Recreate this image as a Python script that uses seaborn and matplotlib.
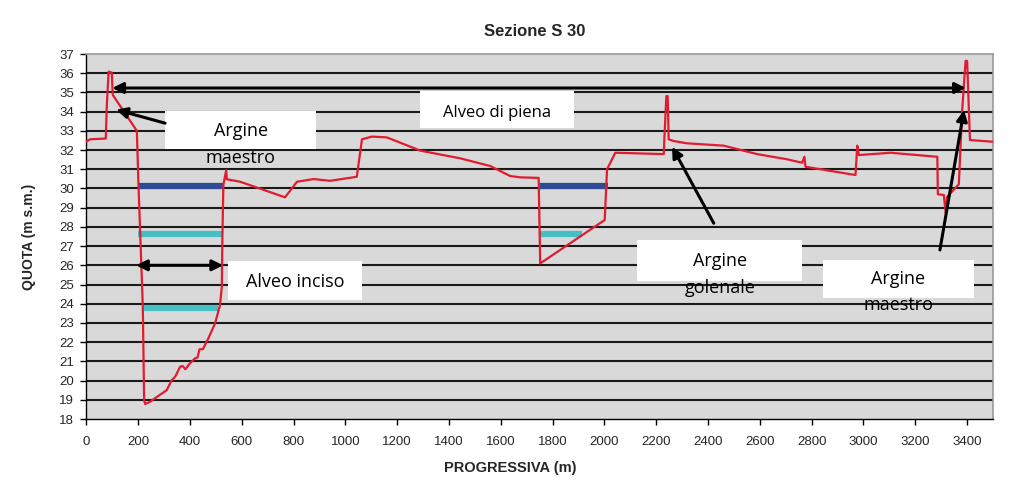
import matplotlib
matplotlib.use("Agg")
import matplotlib.pyplot as plt
import seaborn as sns
import pandas as pd

# ---- data ----
profile_x = [0, 14, 75, 79, 86, 98, 102, 195, 201, 218, 223, 227, 246, 310, 330, 343, 362, 372, 382,
             400, 420, 429, 437, 450, 471, 497, 516, 523, 525, 529, 540, 542, 594, 767, 813, 877, 941,
             1044, 1064, 1102, 1160, 1289, 1443, 1559, 1636, 1675, 1746, 1752, 2001, 2010, 2042, 2229,
             2231, 2239, 2244, 2248, 2267, 2319, 2460, 2589, 2705, 2763, 2772, 2776, 2969, 2976, 2982,
             3104, 3285, 3287, 3310, 3317, 3323, 3368, 3381, 3394, 3400, 3411, 3503]
profile_y = [32.44, 32.56, 32.60, 34.30, 36.08, 36.03, 34.87, 33.00, 30.30, 23.85, 18.99, 18.78, 18.90,
             19.50, 20.03, 20.20, 20.72, 20.76, 20.59, 20.90, 21.16, 21.20, 21.63, 21.64, 22.20, 22.98,
             23.93, 24.89, 27.30, 30.20, 30.96, 30.48, 30.35, 29.54, 30.35, 30.49, 30.40, 30.61, 32.56,
             32.70, 32.66, 31.97, 31.57, 31.17, 30.65, 30.58, 30.55, 26.10, 28.36, 31.00, 31.86, 31.79,
             32.52, 34.81, 34.81, 32.56, 32.47, 32.35, 32.23, 31.79, 31.52, 31.34, 31.65, 31.13, 30.70,
             32.23, 31.74, 31.86, 31.65, 29.70, 29.66, 28.74, 29.57, 30.22, 34.08, 36.64, 36.64, 32.52,
             32.43]

navy_start = [201, 1753]
navy_end = [529, 2012]
navy_level = [30.14, 30.13]

cyan_start = [201, 1753, 223]
cyan_end = [529, 1914, 510]
cyan_level = [27.61, 27.63, 23.76]

x_ticks = list(range(0, 3401, 200))
y_ticks = list(range(18, 38))

title = "Sezione S 30"
x_label = "PROGRESSIVA (m)"
y_label = "QUOTA (m s.m.)"

# ---- plot ----
sns.set_theme(style="white")
plt.rcParams['font.family'] = ['Liberation Sans', 'DejaVu Sans']

fig = plt.figure(figsize=(10.23, 4.95), dpi=100)
ax = fig.add_axes([0.0844, 0.1535, 0.9707 - 0.0844, 0.8909 - 0.1535])
ax.set_facecolor("#D9D9D9")

ax.set_xlim(0, 3500)
ax.set_ylim(18, 37)

for y in y_ticks[1:-1]:
    ax.axhline(y, color="#1a1a1a", lw=1.5, zorder=1)

for s, e, l in zip(navy_start, navy_end, navy_level):
    sns.lineplot(x=[s, e], y=[l, l], ax=ax, color="#2F4B96", lw=4.5, zorder=3, solid_capstyle="butt")
for s, e, l in zip(cyan_start, cyan_end, cyan_level):
    sns.lineplot(x=[s, e], y=[l, l], ax=ax, color="#45BFC4", lw=4.5, zorder=3, solid_capstyle="butt")

df = pd.DataFrame({"x": profile_x, "y": profile_y})
sns.lineplot(data=df, x="x", y="y", ax=ax, sort=False, estimator=None, color="#E31B2F", lw=1.6, zorder=4)

# text boxes
box_font = ['Open Sans', 'DejaVu Sans']
def textbox(x0, x1, y0, y1, lines, ys, fs=12.5):
    ax.add_patch(plt.Rectangle((x0, y0), x1 - x0, y1 - y0, facecolor="white", edgecolor="none", zorder=5))
    for t, yy in zip(lines, ys):
        ax.text((x0 + x1) / 2, yy, t, ha="center", va="center", fontsize=fs, family=box_font, zorder=6, color="black")

textbox(304, 888, 32.05, 34.05, ["Argine", "maestro"], [33.0, 31.6], 13)
textbox(1289, 1884, 33.15, 35.1, ["Alveo di piena"], [33.95], 12)
textbox(546, 1066, 24.2, 26.2, ["Alveo inciso"], [25.15], 13)
textbox(2127, 2763, 25.2, 27.3, ["Argine", "golenale"], [26.2, 24.8], 13)
textbox(2844, 3426, 24.3, 26.3, ["Argine", "maestro"], [25.3, 23.95], 13)

# arrows
arrow_kw = dict(arrowstyle="-|>", color="black", lw=2.2, mutation_scale=16, shrinkA=0, shrinkB=0)
dbl_kw = dict(arrowstyle="<|-|>", color="black", lw=2.2, mutation_scale=16, shrinkA=0, shrinkB=0)
ax.annotate("", xy=(100, 35.23), xytext=(3395, 35.23), arrowprops=dbl_kw, zorder=7)
ax.annotate("", xy=(192, 26.0), xytext=(528, 26.0), arrowprops=dbl_kw, zorder=7)
ax.annotate("", xy=(115, 34.1), xytext=(304, 33.4), arrowprops=arrow_kw, zorder=7)
ax.annotate("", xy=(2261, 32.17), xytext=(2422, 28.19), arrowprops=arrow_kw, zorder=7)
ax.annotate("", xy=(3388, 34.08), xytext=(3295, 26.8), arrowprops=arrow_kw, zorder=7)

ax.set_xticks(x_ticks)
ax.set_yticks(y_ticks)
ax.tick_params(axis="x", labelsize=9.5, length=4, width=1, color="black", direction="out", pad=8, bottom=True)
ax.tick_params(axis="y", labelsize=9.5, length=4, width=1, color="black", direction="out", pad=5, left=True)
ax.set_xlabel(x_label, fontsize=10.5, fontweight="bold", labelpad=9)
ax.xaxis.set_label_coords(0.468, -0.115)
ax.set_ylabel(y_label, fontsize=10, fontweight="bold")
ax.yaxis.set_label_coords(-0.056, 0.5)
ax.set_title(title, fontsize=12, fontweight="bold", pad=13, x=0.494)

for side in ["top", "right"]:
    ax.spines[side].set_color("#9a9a9a")
    ax.spines[side].set_linewidth(1.2)
for side in ["left", "bottom"]:
    ax.spines[side].set_color("black")
    ax.spines[side].set_linewidth(1.0)

fig.savefig("out.png", dpi=100)
